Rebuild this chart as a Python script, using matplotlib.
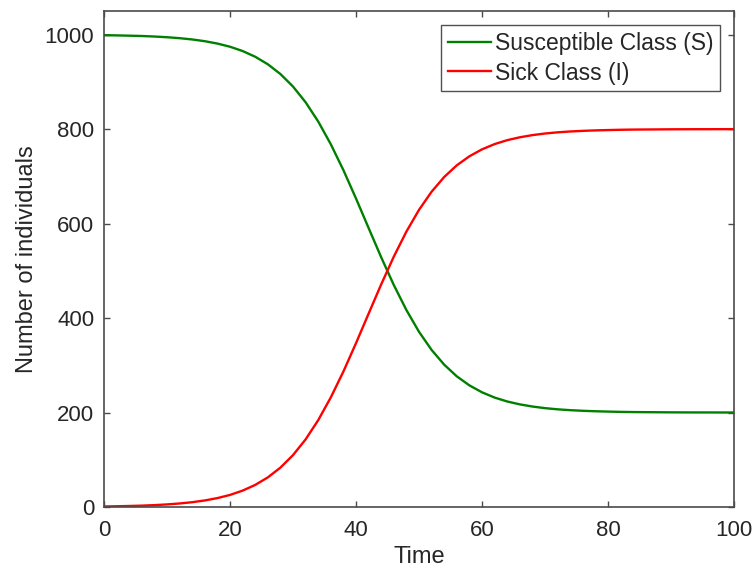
import matplotlib.pyplot as plt

# Cores
cor_s     = '#008000'
cor_i     = '#FF0000'
cor_eixo  = '#4a4a4a'
cor_texto = '#262626'

# Tempo e populações (S = suscetíveis, I = doentes)
tempo = list(range(0, 101, 2))

doentes = [1.1, 1.6, 2.2, 2.9, 4.0, 5.5, 7.5, 10.2, 13.9, 18.9, 25.6, 34.7,
           46.8, 62.7, 83.4, 109.9, 143.2, 183.9, 232.1, 286.9, 346.9, 409.4,
           471.4, 530.1, 583.1, 629.1, 667.5, 698.7, 723.4, 742.5, 757.2,
           768.3, 776.6, 782.7, 787.3, 790.7, 793.2, 795.0, 796.3, 797.3,
           798.0, 798.6, 799.0, 799.2, 799.4, 799.6, 799.7, 799.8, 799.8,
           799.9, 799.9]

suscetiveis = [998.9, 998.4, 997.8, 997.1, 996.0, 994.5, 992.5, 989.8, 986.1,
               981.1, 974.4, 965.3, 953.2, 937.3, 916.6, 890.1, 856.8, 816.1,
               767.9, 713.1, 653.1, 590.6, 528.6, 469.9, 416.9, 370.9, 332.5,
               301.3, 276.6, 257.5, 242.8, 231.7, 223.4, 217.3, 212.7, 209.3,
               206.8, 205.0, 203.7, 202.7, 202.0, 201.4, 201.0, 200.8, 200.6,
               200.4, 200.3, 200.2, 200.2, 200.1, 200.1]

plt.rcParams['font.family'] = ['Liberation Sans', 'DejaVu Sans']

fig = plt.figure(figsize=(7.56, 5.74), dpi=100)
ax = fig.add_axes([0.1376, 0.1167, 0.8333, 0.8641])

ax.plot(tempo, suscetiveis, color=cor_s, linewidth=1.7, label='Susceptible Class (S)')
ax.plot(tempo, doentes, color=cor_i, linewidth=1.7, label='Sick Class (I)')

ax.set_xlim(0, 100)
ax.set_ylim(0, 1050)
ax.set_xticks(range(0, 101, 20))
ax.set_yticks(range(0, 1001, 200))

for spine in ax.spines.values():
    spine.set_color(cor_eixo)
    spine.set_linewidth(1.2)
ax.tick_params(direction='in', length=4.5, width=1.0, color=cor_eixo,
               top=True, right=True, labelsize=16, labelcolor=cor_texto)
ax.tick_params(axis='x', pad=9)
ax.tick_params(axis='y', pad=7)

ax.set_xlabel('Time', fontsize=17, color=cor_texto, labelpad=4)
ax.set_ylabel('Number of individuals', fontsize=17, color=cor_texto, labelpad=5)

leg = ax.legend(loc='upper right', fontsize=16.5, frameon=True, fancybox=False,
                handlelength=1.9, handletextpad=0.15, borderpad=0.3,
                labelspacing=0.3, borderaxespad=0.6)
leg.get_frame().set_edgecolor(cor_texto)
leg.get_frame().set_linewidth(1.0)
for txt in leg.get_texts():
    txt.set_color(cor_texto)

plt.savefig('out.png', dpi=100, facecolor='white')
